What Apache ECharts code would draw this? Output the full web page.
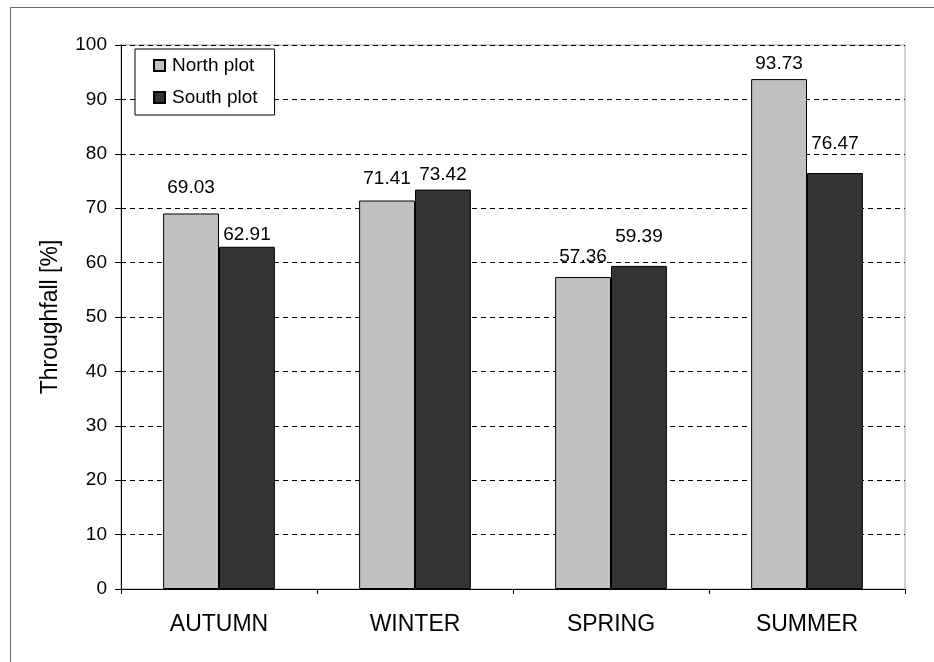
<!DOCTYPE html>
<html>
<head>
<meta charset="utf-8">
<script src="https://cdn.jsdelivr.net/npm/echarts@6/dist/echarts.min.js"></script>
<style>
  html, body { margin: 0; padding: 0; background: #fff; }
  #chart { width: 934px; height: 662px; }
</style>
</head>
<body>
<div id="chart"></div>
<script>
// Seasonal throughfall, percent of open-field rainfall
const seasons = ['AUTUMN', 'WINTER', 'SPRING', 'SUMMER'];
const northPlot = [69.03, 71.41, 57.36, 93.73];
const southPlot = [62.91, 73.42, 59.39, 76.47];
const seriesNames = ['North plot', 'South plot'];

// Label lift above each bar top (px), as the labels sit in the original layout
const northLabelLift = [16, 12, 11, 6];
const southLabelLift = [3, 5, 20, 20];

const FONT = '"Liberation Sans", Arial, sans-serif';

function barData(values, lifts) {
  return values.map((v, i) => ({ value: v, label: { distance: lifts[i] } }));
}

const chart = echarts.init(document.getElementById('chart'), null, { renderer: 'canvas' });

chart.setOption({
  animation: false,
  backgroundColor: '#fff',
  textStyle: { fontFamily: FONT, color: '#000' },
  graphic: [{
    type: 'rect',
    z: -10,
    shape: { x: 10.5, y: 7.5, width: 1000, height: 1000 },
    style: { fill: 'none', stroke: '#6a6a6a', lineWidth: 1 }
  }],
  grid: {
    left: 121, right: 29, top: 45, bottom: 73,
    show: true, borderColor: '#a0a0a0', borderWidth: 1, backgroundColor: 'transparent'
  },
  legend: {
    orient: 'vertical',
    left: 135, top: 49,
    padding: [7, 17, 8, 18],
    itemGap: 13,
    itemWidth: 11, itemHeight: 11,
    icon: 'rect',
    backgroundColor: '#fff',
    borderColor: '#000', borderWidth: 1, borderRadius: 0,
    textStyle: { fontFamily: FONT, fontSize: 19, color: '#000', padding: [0, 0, 0, 2] },
    data: seriesNames
  },
  xAxis: {
    type: 'category',
    data: seasons,
    boundaryGap: true,
    axisLine: { show: true, lineStyle: { color: '#000', width: 1 } },
    axisTick: { show: true, alignWithLabel: false, length: 5, lineStyle: { color: '#000' } },
    axisLabel: { fontFamily: FONT, fontSize: 23, color: '#000', margin: 24 },
    splitLine: { show: false }
  },
  yAxis: {
    type: 'value',
    min: 0, max: 100, interval: 10,
    name: 'Throughfall [%]',
    nameLocation: 'middle',
    nameRotate: 90,
    nameGap: 59,
    nameTextStyle: { fontFamily: FONT, fontSize: 23, color: '#000' },
    axisLine: { show: true, lineStyle: { color: '#000', width: 1 } },
    axisTick: { show: true, inside: false, length: 6, lineStyle: { color: '#000' } },
    axisLabel: { fontFamily: FONT, fontSize: 19, color: '#000', margin: 14 },
    splitLine: { show: true, lineStyle: { color: '#000', type: [5, 4], width: 1 } }
  },
  series: [
    {
      name: seriesNames[0],
      type: 'bar',
      barGap: '0%',
      barCategoryGap: '43%',
      itemStyle: { color: '#c0c0c0', borderColor: '#000', borderWidth: 1 },
      label: { show: true, position: 'top', fontFamily: FONT, fontSize: 19, color: '#000', formatter: p => p.value.toFixed(2) },
      data: barData(northPlot, northLabelLift)
    },
    {
      name: seriesNames[1],
      type: 'bar',
      barGap: '0%',
      barCategoryGap: '43%',
      itemStyle: { color: '#333333', borderColor: '#000', borderWidth: 1 },
      label: { show: true, position: 'top', fontFamily: FONT, fontSize: 19, color: '#000', formatter: p => p.value.toFixed(2) },
      data: barData(southPlot, southLabelLift)
    }
  ]
});
</script>
</body>
</html>
